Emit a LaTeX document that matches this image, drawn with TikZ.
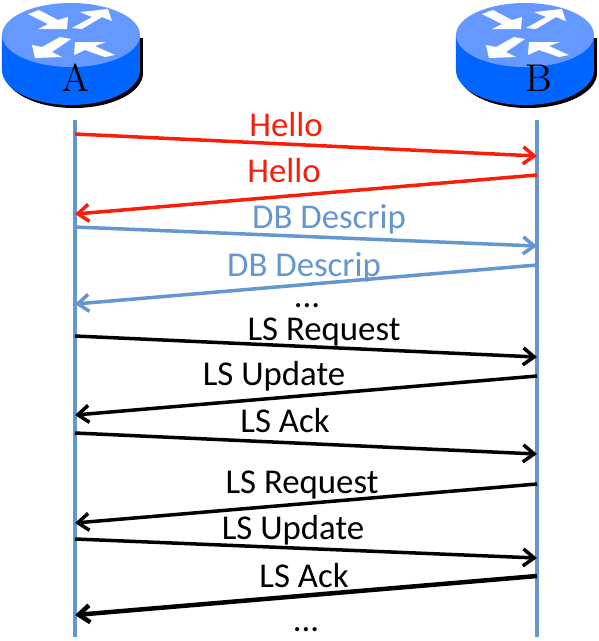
\documentclass[tikz,border=0pt]{standalone}
\usepackage{fontspec}
\newfontfamily\labelfont{Carlito}
\usetikzlibrary{arrows.meta}
\definecolor{linkblue}{HTML}{6496CF}
\definecolor{helloRed}{HTML}{FA1E0A}
\definecolor{routerTop}{HTML}{6699FF}
\definecolor{routerSide}{HTML}{0066FF}
\tikzset{
  lifeline/.style={draw=linkblue,line width=0.04cm},
  msg/.style={-{Straight Barb[length=0.11cm,width=0.17cm]},line width=0.035cm},
  msglabel/.style={font=\labelfont\fontsize{9.9}{12}\selectfont,inner sep=0pt},
  hostlabel/.style={font=\fontsize{11}{13}\selectfont,inner sep=0pt},
  router/.pic={
    \fill[black] (5,38) -- (5,73) arc[start angle=180,end angle=0,x radius=69,y radius=35] -- (143,38) -- cycle;
    \fill[routerSide] (2,35) -- (2,70) arc[start angle=180,end angle=0,x radius=69,y radius=35] -- (140,35) -- cycle;
    \fill[routerTop] (71,35) ellipse[x radius=69,y radius=32];
    \fill[white] (28,14) -- (39,10) -- (58,20) -- (68,17) -- (67,29) -- (38,29) -- (48,24) -- cycle;
    \fill[white] (72,28) -- (92,17) -- (80,12) -- (108,9) -- (112,21) -- (102,17) -- (82,29) -- cycle;
    \fill[white] (71,39) -- (60,37) -- (42,47) -- (32,45) -- (35,58) -- (62,57) -- (52,52) -- cycle;
    \fill[white] (75,42) -- (74,55) -- (85,50) -- (105,57) -- (115,55) -- (95,46) -- (106,42) -- cycle;
  }
}
\begin{document}
\begin{tikzpicture}[x=0.01cm,y=-0.01cm]
  \useasboundingbox (0,0) rectangle (599,641);
  \pic at (0,0) {router};
  \pic at (454,0) {router};
  \node[hostlabel] (hostA) at (76,78) {A};
  \node[hostlabel] (hostB) at (539,78) {B};
  % lifelines
  \draw
    (75,120) coordinate (a0)
    (75,134) coordinate (a1)
    (75,214) coordinate (a2)
    (75,227) coordinate (a3)
    (75,304) coordinate (a4)
    (75,336) coordinate (a5)
    (75,415) coordinate (a6)
    (75,433) coordinate (a7)
    (75,523) coordinate (a8)
    (75,539) coordinate (a9)
    (75,615) coordinate (a10)
    (75,637) coordinate (a11);
  \draw
    (537,120) coordinate (b0)
    (537,156) coordinate (b1)
    (537,175) coordinate (b2)
    (537,246) coordinate (b3)
    (537,265) coordinate (b4)
    (537,357) coordinate (b5)
    (537,376) coordinate (b6)
    (537,454) coordinate (b7)
    (537,484) coordinate (b8)
    (537,558) coordinate (b9)
    (537,576) coordinate (b10)
    (537,637) coordinate (b11);
  \draw[lifeline] (a0) to (a11);
  \draw[lifeline] (b0) to (b11);
  % messages
  \begin{scope}[msg,helloRed]
    \draw (a1) to (b1);
    \draw (b2) to (a2);
  \end{scope}
  \begin{scope}[msg,linkblue]
    \draw (a3) to (b3);
    \draw (b4) to (a4);
  \end{scope}
  \begin{scope}[msg,black]
    \draw (a5) to (b5);
    \draw (b6) to (a6);
    \draw (a7) to (b7);
    \draw (b8) to (a8);
    \draw (a9) to (b9);
    \draw[line width=0.045cm] (b10) to (a10);
  \end{scope}
  % labels
  \node[msglabel,text=helloRed] (hello1) at (286,125) {Hello};
  \node[msglabel,text=helloRed] (hello2) at (284,171) {Hello};
  \node[msglabel,text=linkblue] (descrip1) at (329,219) {DB Descrip};
  \node[msglabel,text=linkblue] (descrip2) at (304,267) {DB Descrip};
  \node[msglabel] (dots1) at (307,306) {...};
  \node[msglabel] (request1) at (324,332) {LS Request};
  \node[msglabel] (update1) at (274,376) {LS Update};
  \node[msglabel] (ack1) at (285,421) {LS Ack};
  \node[msglabel] (request2) at (302,485) {LS Request};
  \node[msglabel] (update2) at (293,530) {LS Update};
  \node[msglabel] (ack2) at (304,576) {LS Ack};
  \node[msglabel] (dots2) at (306,630) {...};
\end{tikzpicture}
\end{document}
